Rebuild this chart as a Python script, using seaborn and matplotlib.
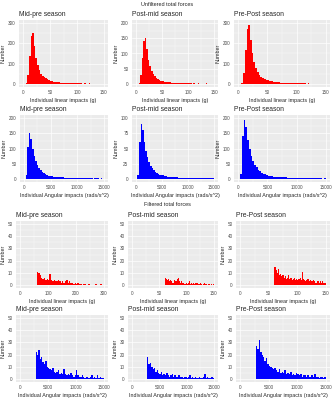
import matplotlib.pyplot as plt
import numpy as np
import pandas as pd
import seaborn as sns
from matplotlib.ticker import AutoMinorLocator, MultipleLocator

sns.set_style("darkgrid")
plt.rcParams['font.family'] = ['Liberation Sans', 'DejaVu Sans']

# bin edges (g and rads/s^2)
lin_edges = np.arange(5, 150, 3)
ang_edges = np.arange(300, 15001, 300)
flin_edges_wide = np.arange(60, 301, 5)
flin_edges = np.arange(60, 151, 2)
fang_edges = np.arange(2750, 15001, 250)

# unfiltered linear counts
lin_mid_pre = [5, 45, 140, 235, 250, 185, 130, 95, 68, 50, 40, 32, 27, 22, 19, 16, 14, 12, 10, 9,
               8, 7, 6, 6, 5, 5, 5, 4, 4, 4, 3, 3, 3, 3, 3, 2, 3, 2, 2, 3, 2, 2, 2, 2, 2, 1, 2, 2]
lin_post_mid = [3, 28, 85, 140, 152, 115, 80, 58, 42, 32, 25, 20, 16, 13, 11, 9, 8, 7, 6, 5,
                5, 4, 4, 3, 3, 3, 3, 2, 2, 2, 2, 2, 2, 2, 1, 2, 1, 1, 2, 1, 1, 1, 1, 2, 1, 1, 1, 1]
lin_pre_post = [6, 55, 165, 270, 290, 215, 150, 110, 78, 58, 45, 36, 30, 25, 21, 18, 15, 13, 11, 10,
                9, 8, 7, 6, 6, 5, 5, 5, 4, 4, 4, 3, 3, 3, 3, 3, 3, 2, 3, 2, 2, 2, 2, 2, 2, 2, 1, 2]

# unfiltered angular counts
ang_mid_pre = [12, 105, 150, 130, 98, 75, 58, 46, 36, 29, 23, 19, 16, 13, 11, 10, 9, 8, 7, 6,
               6, 5, 5, 5, 4, 4, 4, 3, 3, 3, 3, 3, 2, 3, 2, 2, 3, 2, 2, 2, 2, 2, 1, 2, 2, 2, 1, 2, 1]
ang_post_mid = [6, 60, 90, 80, 60, 46, 36, 28, 22, 18, 14, 12, 10, 8, 7, 6, 6, 5, 5, 4,
                4, 4, 3, 3, 3, 3, 2, 2, 2, 2, 2, 2, 2, 1, 2, 2, 1, 1, 2, 1, 1, 1, 2, 1, 1, 2, 1, 1, 1]
ang_pre_post = [15, 140, 195, 170, 128, 98, 76, 60, 47, 38, 30, 25, 21, 17, 15, 13, 11, 10, 9, 8,
                7, 7, 6, 6, 5, 5, 5, 4, 4, 4, 4, 3, 3, 3, 3, 3, 3, 2, 3, 2, 2, 2, 3, 2, 2, 2, 2, 1, 2]

# filtered linear counts
flin_mid_pre = [11, 10, 8, 6, 5, 6, 4, 5, 4, 9, 4, 3, 4, 3, 3, 4, 3, 2, 3, 2, 3, 4, 2, 3, 2,
                2, 1, 2, 1, 2, 1, 1, 0, 1, 1, 0, 0, 1, 0, 0, 0, 0, 1, 0, 0, 1, 1, 0]
flin_post_mid = [6, 5, 4, 5, 3, 4, 3, 2, 4, 3, 3, 5, 6, 3, 2, 3, 2, 2, 1, 2, 1, 2, 3, 1, 2,
                 1, 2, 1, 2, 2, 1, 1, 2, 1, 0, 1, 2, 1, 1, 0, 1, 0, 1, 0, 1]
flin_pre_post = [15, 12, 10, 13, 8, 9, 7, 8, 6, 7, 5, 6, 8, 5, 6, 4, 5, 6, 4, 5, 4, 5, 6, 4, 11,
                 5, 4, 3, 4, 5, 3, 4, 3, 3, 4, 3, 2, 3, 3, 2, 3, 2, 3, 2, 2]

# filtered angular counts
fang_mid_pre = [22, 20, 24, 16, 18, 14, 12, 15, 10, 9, 8, 7, 9, 6, 5, 6, 7, 4, 5, 4, 8, 4, 3, 4, 3,
                5, 3, 2, 3, 7, 3, 2, 2, 3, 2, 1, 2, 2, 1, 2, 3, 1, 2, 1, 3, 1, 2, 1, 1]
fang_post_mid = [18, 12, 13, 10, 8, 9, 6, 7, 5, 4, 6, 3, 4, 3, 5, 3, 2, 3, 4, 2, 3, 2, 2, 3, 2,
                 2, 1, 2, 2, 1, 2, 3, 1, 2, 1, 2, 1, 1, 2, 1, 1, 2, 4, 1, 2, 1, 1, 2, 1]
fang_pre_post = [27, 25, 32, 22, 20, 18, 15, 17, 12, 11, 10, 9, 8, 9, 7, 6, 8, 5, 6, 5, 7, 4, 5, 4, 6,
                 3, 4, 3, 5, 4, 3, 4, 2, 3, 3, 2, 3, 2, 2, 3, 2, 4, 2, 2, 1, 2, 2, 1, 2]

titles = ["Mid-pre season", "Post-mid season", "Pre-Post season"]
lin_label = "Individual linear impacts (g)"
ang_label = "Individual Angular impacts (rads/s^2)"

W, H = 334, 400
fig = plt.figure(figsize=(W / 100, H / 100), dpi=100)

# (top, bottom) of each panel row and (left, right) of each column, pixels
rows = [(20, 87), (115, 182), (221, 288), (315, 382)]
cols = [[(19, 108), (132, 218), (234, 330)],
        [(20, 108), (132, 218), (234, 330)],
        [(16, 108), (128, 218), (236, 330)],
        [(16, 108), (128, 218), (236, 330)]]

panels = [
    [(lin_edges, lin_mid_pre, 150, 50, 300, 100), (lin_edges, lin_post_mid, 150, 50, 200, 50),
     (lin_edges, lin_pre_post, 150, 50, 300, 100)],
    [(ang_edges, ang_mid_pre, 15000, 5000, 200, 50), (ang_edges, ang_post_mid, 15000, 5000, 100, 25),
     (ang_edges, ang_pre_post, 15000, 5000, 200, 50)],
    [(flin_edges_wide, flin_mid_pre, 300, 100, 50, 10), (flin_edges, flin_post_mid, 150, 50, 50, 10),
     (flin_edges, flin_pre_post, 150, 50, 50, 10)],
    [(fang_edges, fang_mid_pre, 15000, 5000, 50, 10), (fang_edges, fang_post_mid, 15000, 5000, 50, 10),
     (fang_edges, fang_pre_post, 15000, 5000, 50, 10)],
]
colors = ["#FF0000", "#0000FF", "#FF0000", "#0000FF"]
xlabels = [lin_label, ang_label, lin_label, ang_label]

for r in range(4):
    top, bottom = rows[r]
    for c in range(3):
        left, right = cols[r][c]
        ax = fig.add_axes([left / W, 1 - bottom / H, (right - left) / W, (bottom - top) / H])
        edges, counts, xmax, xstep, ymax, ystep = panels[r][c]
        df = pd.DataFrame({"x": (edges[:-1] + edges[1:]) / 2, "n": counts})
        sns.histplot(data=df, x="x", weights="n", bins=list(edges), color=colors[r], alpha=1,
                     linewidth=0, ax=ax)
        ax.set_facecolor("#EBEBEB")
        ax.set_xlim(-0.05 * xmax, 1.05 * xmax)
        ax.set_ylim(-0.05 * ymax, 1.05 * ymax)
        ax.xaxis.set_major_locator(MultipleLocator(xstep))
        ax.yaxis.set_major_locator(MultipleLocator(ystep))
        ax.xaxis.set_minor_locator(AutoMinorLocator(2))
        ax.yaxis.set_minor_locator(AutoMinorLocator(2))
        ax.grid(which="major", color="white", linewidth=0.5)
        ax.grid(which="minor", color="white", linewidth=0.25)
        ax.set_axisbelow(True)
        for s in ax.spines.values():
            s.set_visible(False)
        ax.tick_params(which="major", length=1.5, width=0.4, color="#333333",
                       labelsize=3.3, labelcolor="#4D4D4D", pad=1)
        ax.tick_params(which="minor", length=0)
        ax.set_xlabel(xlabels[r], fontsize=3.9, labelpad=1.5)
        ax.set_ylabel("Number", fontsize=3.9, labelpad=1.5)
        ax.set_title(titles[c], loc="left", fontsize=4.9, pad=3)

fig.text(167 / W, 1 - 5 / H, "Unfiltered total forces", ha="center", va="center", fontsize=4)
fig.text(167 / W, 1 - 205 / H, "Filtered total forces", ha="center", va="center", fontsize=4)

fig.savefig("out.png", dpi=100, facecolor="white")
